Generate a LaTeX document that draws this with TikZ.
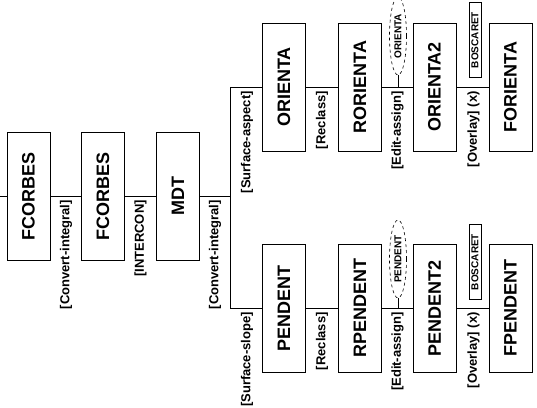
\documentclass[tikz,border=0pt]{standalone}
\usepackage{fontspec}
\setmainfont{Liberation Sans}
\usetikzlibrary{shapes.geometric}
\begin{document}
\begin{tikzpicture}[x=1pt,y=-1pt,
  box/.style={draw, line width=0.8pt, minimum width=43pt, minimum height=128pt, inner sep=0pt, font=\fontsize{18}{20}\selectfont\bfseries},
  lbl/.style={anchor=north, inner sep=0pt, font=\fontsize{13}{14}\selectfont\bfseries},
  wire/.style={line width=0.8pt},
  oval/.style={draw, dashed, ellipse, line width=0.6pt, minimum width=17pt, minimum height=78pt, inner sep=0pt, font=\fontsize{10}{11}\selectfont\bfseries},
  tag/.style={draw, line width=0.6pt, minimum width=12pt, minimum height=75pt, inner sep=0pt, font=\fontsize{10}{11}\selectfont\bfseries}
]
\clip (0,0) rectangle (537,407);
\fill[white] (0,0) rectangle (537,407);
% top chain
\coordinate (L) at (0,196);
\node[box] (fc1) at (28.5,196) {\rotatebox{90}{FCORBES}};
\node[box] (fc2) at (103,196) {\rotatebox{90}{FCORBES}};
\node[box] (mdt) at (178,196) {\rotatebox{90}{MDT}};
\coordinate (J) at (230,196);
\coordinate (Ja) at (230,87);
\coordinate (Jb) at (230,308);
% upper branch
\node[box] (ori) at (284,87) {\rotatebox{90}{ORIENTA}};
\node[box] (rori) at (360,87) {\rotatebox{90}{RORIENTA}};
\node[box] (ori2) at (434.5,87) {\rotatebox{90}{ORIENTA2}};
\node[box] (fori) at (510.5,87) {\rotatebox{90}{FORIENTA}};
% lower branch
\node[box] (pen) at (284,308) {\rotatebox{90}{PENDENT}};
\node[box] (rpen) at (360,308) {\rotatebox{90}{RPENDENT}};
\node[box] (pen2) at (434.5,308) {\rotatebox{90}{PENDENT2}};
\node[box] (fpen) at (510.5,308) {\rotatebox{90}{FPENDENT}};
% side inputs
\node[oval] (e1) at (398,36) {\rotatebox{90}{ORIENTA}};
\coordinate (s1) at (398,87);
\node[oval] (e2) at (398,259) {\rotatebox{90}{PENDENT}};
\coordinate (s2) at (398,308);
\node[tag] (t1) at (475,40) {\rotatebox{90}{BOSCARET}};
\node[tag] (t2) at (475,262) {\rotatebox{90}{BOSCARET}};
% connectors
\draw[wire] (L) -- (fc1);
\draw[wire] (fc1) -- (fc2);
\draw[wire] (fc2) -- (mdt);
\draw[wire] (mdt) -- (J);
\draw[wire] (Ja) -- (Jb);
\draw[wire] (Ja) -- (ori);
\draw[wire] (Jb) -- (pen);
\draw[wire] (ori) -- (rori);
\draw[wire] (rori) -- (ori2);
\draw[wire] (ori2) -- (fori);
\draw[wire] (pen) -- (rpen);
\draw[wire] (rpen) -- (pen2);
\draw[wire] (pen2) -- (fpen);
\draw[wire] (e1.south) -- (s1);
\draw[wire] (e2.south) -- (s2);
% labels
\node[lbl] (l1) at (66,200) {\rotatebox{90}{[Convert-integral]}};
\node[lbl] (l2) at (140.5,200) {\rotatebox{90}{[INTERCON]}};
\node[lbl] (l3) at (215,200) {\rotatebox{90}{[Convert-integral]}};
\node[lbl] (l4) at (247,91) {\rotatebox{90}{[Surface-aspect]}};
\node[lbl] (l5) at (247,312) {\rotatebox{90}{[Surface-slope]}};
\node[lbl] (l6) at (322,91) {\rotatebox{90}{[Reclass]}};
\node[lbl] (l7) at (397.5,91) {\rotatebox{90}{[Edit-assign]}};
\node[lbl] (l8) at (473.5,91) {\rotatebox{90}{[Overlay] (x)}};
\node[lbl] (l9) at (322,312) {\rotatebox{90}{[Reclass]}};
\node[lbl] (l10) at (397.5,312) {\rotatebox{90}{[Edit-assign]}};
\node[lbl] (l11) at (473.5,312) {\rotatebox{90}{[Overlay] (x)}};
\end{tikzpicture}
\end{document}
